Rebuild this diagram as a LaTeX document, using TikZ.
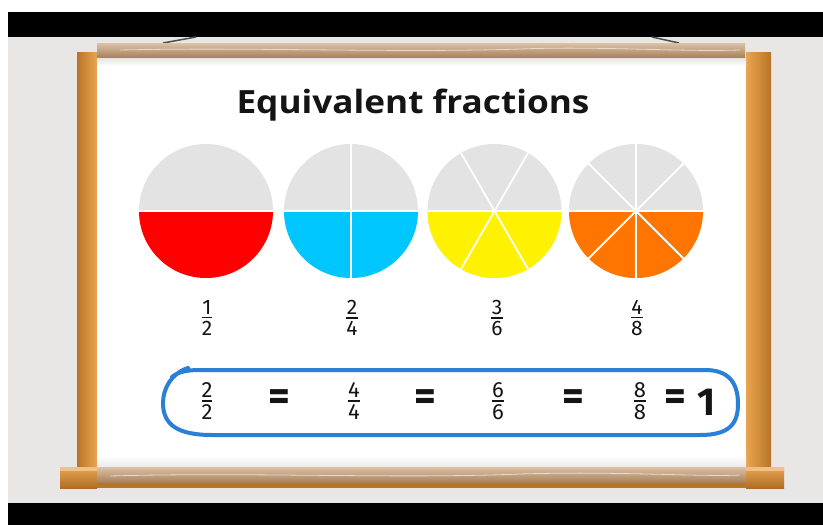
\documentclass[tikz,border=0pt]{standalone}
\usepackage{fontspec}
\usepackage{graphicx}
\setmainfont{Fira Sans}
\newfontfamily\titlefont{Open Sans}
\newfontfamily\digfont{Fira Sans}
\newcommand\myfr[2]{\vbox{\offinterlineskip\halign{\hfil##\hfil\cr #1\cr\noalign{\kern2.5pt\hrule height 1.6pt\kern3pt}#2\cr}}}
\definecolor{wallc}{HTML}{E8E7E5}
\definecolor{woodo}{HTML}{D9892E}
\definecolor{woodol}{HTML}{EAA552}
\definecolor{woodt}{HTML}{C9A687}
\definecolor{woodtl}{HTML}{DCC2A6}
\definecolor{woodtd}{HTML}{A9835F}
\definecolor{greyc}{HTML}{E3E3E3}
\definecolor{redc}{HTML}{FF0000}
\definecolor{bluec}{HTML}{00C6FF}
\definecolor{yelc}{HTML}{FFF200}
\definecolor{orac}{HTML}{FF7500}
\definecolor{loopc}{HTML}{2A7FD6}
\definecolor{inkc}{HTML}{141414}
\tikzset{
  divline/.style={draw=white,line width=1.8pt},
  hline/.style={draw=white,line width=1.2pt},
  topfrac/.style={font=\digfont\fontsize{21}{23}\selectfont,text=inkc,inner sep=0pt},
  botfrac/.style={font=\digfont\fontsize{22}{24}\selectfont,text=inkc,inner sep=0pt},
  eqsign/.style={font=\digfont\bfseries\fontsize{42}{44}\selectfont,text=inkc,inner sep=0pt},
  loopline/.style={draw=loopc,line width=4pt,line cap=round,line join=round},
  wire/.style={draw=black!70,line width=1.5pt}
}
\begin{document}
\begin{tikzpicture}[x=1pt,y=-1pt]
\useasboundingbox (0,0) rectangle (823,525);
\fill[white] (0,0) rectangle (823,525);
% wall
\fill[wallc] (8,37) rectangle (823,503);
% black bars
\fill[black] (8,12) rectangle (823,37);
\fill[black] (8,503) rectangle (823,525);
% wires
\draw[wire] (163,43) -- (196,37);
\draw[wire] (679,43) -- (652,37);
% posts
\shade[left color=woodo!85!black,right color=woodol] (77,52) rectangle (97,470);
\shade[left color=woodol,right color=woodo!85!black] (746,52) rectangle (771,470);
% board
\fill[white] (97,57) rectangle (746,467);
\shade[top color=black!12,bottom color=white] (97,57) rectangle (746,66);
\shade[top color=white,bottom color=black!8] (97,455) rectangle (746,467);
% top rail
\shade[top color=woodtl,bottom color=woodtd] (97,43) rectangle (745,57);
\draw[woodtl!60!white,line width=0.8pt] (120,50) .. controls (250,47) and (400,53) .. (520,49) .. controls (600,46) and (680,52) .. (740,50);
% bottom shelf
\shade[top color=woodol,bottom color=woodo!80!black] (60,467) rectangle (97,488);
\fill[woodol!70!white] (60,467) rectangle (97,471);
\shade[top color=woodol,bottom color=woodo!80!black] (746,467) rectangle (784,488);
\fill[woodol!70!white] (746,467) rectangle (784,471);
\fill[woodo!85!black] (97,482) rectangle (746,488);
\shade[top color=woodtl,bottom color=woodtd] (97,467) rectangle (746,482);
\draw[woodtl!60!white,line width=0.8pt] (110,476) .. controls (250,472) and (400,479) .. (520,474) .. controls (620,471) and (700,477) .. (740,475);

% title
\node[font=\titlefont\bfseries\fontsize{32}{36}\selectfont,text=inkc,inner sep=0pt,anchor=base] (title) at (413,113) {\scalebox{1.1}[1]{Equivalent fractions}};

% circles
\coordinate (c1) at (206,211);
\coordinate (c2) at (351,211);
\coordinate (c3) at (494.5,211);
\coordinate (c4) at (636,211);
\foreach \c/\col in {c1/redc,c2/bluec,c3/yelc,c4/orac}{
  \fill[greyc] (\c) circle (67);
  \fill[\col] (\c) -- +(0:67) arc (0:180:67) -- cycle;
  \draw[hline] (\c) +(-67,0) -- +(67,0);
}
\draw[divline] (c2) +(0,-67) -- +(0,67);
\foreach \a in {60,120,240,300}{\draw[divline] (c3) -- +(\a:67);}
\foreach \a in {45,90,135,225,270,315}{\draw[divline] (c4) -- +(\a:67);}

% top fractions
\node[topfrac] (f1) at (207,318) {\myfr{1}{2}};
\node[topfrac] (f2) at (352,318) {\myfr{2}{4}};
\node[topfrac] (f3) at (497,318) {\myfr{3}{6}};
\node[topfrac] (f4) at (637,318) {\myfr{4}{8}};

% loop
\draw[loopline] (188,368) .. controls (172,373) and (163,388) .. (163,403)
  .. controls (163,425) and (178,435) .. (212,435) -- (700,435)
  .. controls (728,435) and (738,425) .. (738,404)
  .. controls (738,382) and (728,370) .. (705,370) -- (200,370)
  .. controls (186,370) and (178,372) .. (172,377);

% bottom equation
\node[botfrac] (g1) at (207,401) {\myfr{2}{2}};
\node[eqsign] (e1) at (279,400) {=};
\node[botfrac] (g2) at (354,401) {\myfr{4}{4}};
\node[eqsign] (e2) at (425,400) {=};
\node[botfrac] (g3) at (498,401) {\myfr{6}{6}};
\node[eqsign] (e3) at (573,400) {=};
\node[botfrac] (g4) at (640,401) {\myfr{8}{8}};
\node[eqsign] (e4) at (675,400) {=};
\node[font=\digfont\bfseries\fontsize{39}{42}\selectfont,text=inkc,inner sep=0pt,anchor=base] (one) at (707,415) {1};
\end{tikzpicture}
\end{document}
